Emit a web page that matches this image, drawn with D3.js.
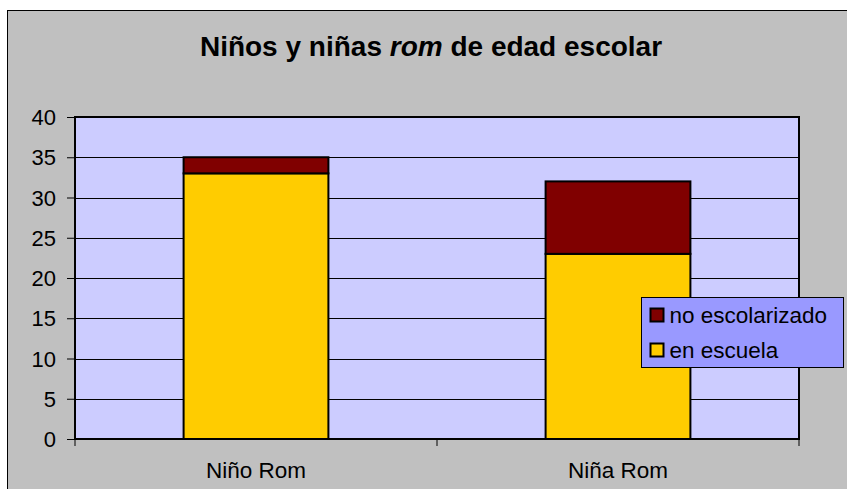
<!DOCTYPE html>
<html>
<head>
<meta charset="utf-8">
<style>
  body { margin: 0; background: #fff; }
  svg { display: block; font-family: Arial, 'Liberation Sans', sans-serif; }
</style>
</head>
<body>
<svg width="847" height="489"></svg>
<script src="https://d3js.org/d3.v7.min.js"></script>
<script>
// data
const categories = ["Niño Rom", "Niña Rom"];
const enEscuela = [33, 23];
const noEscolarizado = [2, 9];
const seriesNames = ["en escuela", "no escolarizado"];
const seriesColors = ["#FFCC00", "#800000"];
const yTicks = [0, 5, 10, 15, 20, 25, 30, 35, 40];

const svg = d3.select("svg");
const margin = { top: 117, right: 48, bottom: 50, left: 75 };
const W = 847, H = 489;
const fontFam = "Arial, 'Liberation Sans', sans-serif";

// chart frame
svg.append("rect")
  .attr("x", 7.5).attr("y", 10.5)
  .attr("width", 850).attr("height", 490)
  .attr("fill", "#C0C0C0").attr("stroke", "#000").attr("stroke-width", 1);

svg.append("text")
  .attr("x", 431).attr("y", 56)
  .attr("text-anchor", "middle")
  .attr("font-size", 28).attr("font-weight", "bold")
  .call(t => {
    t.append("tspan").text("Niños y niñas ");
    t.append("tspan").attr("font-style", "italic").text("rom");
    t.append("tspan").text("  de edad escolar");
  });

const x = d3.scaleBand()
  .domain(categories)
  .range([margin.left, W - margin.right])
  .paddingInner(0.6).paddingOuter(0.3);

const y = d3.scaleLinear()
  .domain([0, 40])
  .range([H - margin.bottom, margin.top]);

// plot area
svg.append("rect")
  .attr("x", margin.left).attr("y", y(40))
  .attr("width", W - margin.right - margin.left)
  .attr("height", y(0) - y(40))
  .attr("fill", "#CCCCFF");

// gridlines
svg.append("g")
  .selectAll("line")
  .data(yTicks.filter(d => d > 0 && d < 40))
  .join("line")
  .attr("x1", margin.left).attr("x2", W - margin.right)
  .attr("y1", d => Math.round(y(d)) + 0.5).attr("y2", d => Math.round(y(d)) + 0.5)
  .attr("stroke", "#000").attr("stroke-width", 1);

// stacked bars
const table = categories.map((c, i) => ({ cat: c, "en escuela": enEscuela[i], "no escolarizado": noEscolarizado[i] }));
const stacked = d3.stack().keys(seriesNames)(table);
const color = d3.scaleOrdinal().domain(seriesNames).range(seriesColors);

svg.append("g")
  .selectAll("g")
  .data(stacked)
  .join("g")
  .attr("fill", d => color(d.key))
  .selectAll("rect")
  .data(d => d)
  .join("rect")
  .attr("x", d => x(d.data.cat))
  .attr("y", d => y(d[1]))
  .attr("width", x.bandwidth())
  .attr("height", d => y(d[0]) - y(d[1]))
  .attr("stroke", "#000").attr("stroke-width", 2);

// plot border
svg.append("rect")
  .attr("x", margin.left).attr("y", y(40))
  .attr("width", W - margin.right - margin.left)
  .attr("height", y(0) - y(40))
  .attr("fill", "none").attr("stroke", "#000").attr("stroke-width", 2);

// y axis
const yAxis = svg.append("g")
  .attr("transform", `translate(${margin.left},0)`)
  .call(d3.axisLeft(y).tickValues(yTicks).tickSize(8).tickPadding(11))
  .call(g => g.select(".domain").remove());
yAxis.attr("font-size", null).attr("font-family", null);
yAxis.selectAll("text").attr("font-size", 22).attr("font-family", fontFam).attr("fill", "#000").attr("dy", "0.35em");
yAxis.selectAll("line").attr("stroke", "#000");

// x axis
const xEdges = d3.scaleLinear().domain([0, categories.length]).range([margin.left, W - margin.right]);
const xAxis = svg.append("g")
  .attr("transform", `translate(0,${y(0)})`);
xAxis.selectAll("line")
  .data(d3.range(categories.length + 1))
  .join("line")
  .attr("x1", d => xEdges(d)).attr("x2", d => xEdges(d))
  .attr("y1", 0).attr("y2", 7)
  .attr("stroke", "#000");
xAxis.selectAll("text")
  .data(categories)
  .join("text")
  .attr("x", d => x(d) + x.bandwidth() / 2)
  .attr("y", 39)
  .attr("text-anchor", "middle")
  .attr("font-size", 22.5)
  .text(d => d);

// legend
const legend = svg.append("g").attr("transform", "translate(641.5,297.5)");
legend.append("rect")
  .attr("width", 202).attr("height", 70)
  .attr("fill", "#9999FF").attr("stroke", "#000").attr("stroke-width", 1);
const legendItems = seriesNames.slice().reverse();
legend.selectAll("g.item")
  .data(legendItems)
  .join("g")
  .attr("class", "item")
  .attr("transform", (d, i) => `translate(9,${11 + i * 35})`)
  .call(g => {
    g.append("rect")
      .attr("width", 13).attr("height", 13)
      .attr("fill", d => color(d))
      .attr("stroke", "#000").attr("stroke-width", 2);
    g.append("text")
      .attr("x", 19).attr("y", 14)
      .attr("font-size", 22.5)
      .text(d => d);
  });
</script>
</body>
</html>
